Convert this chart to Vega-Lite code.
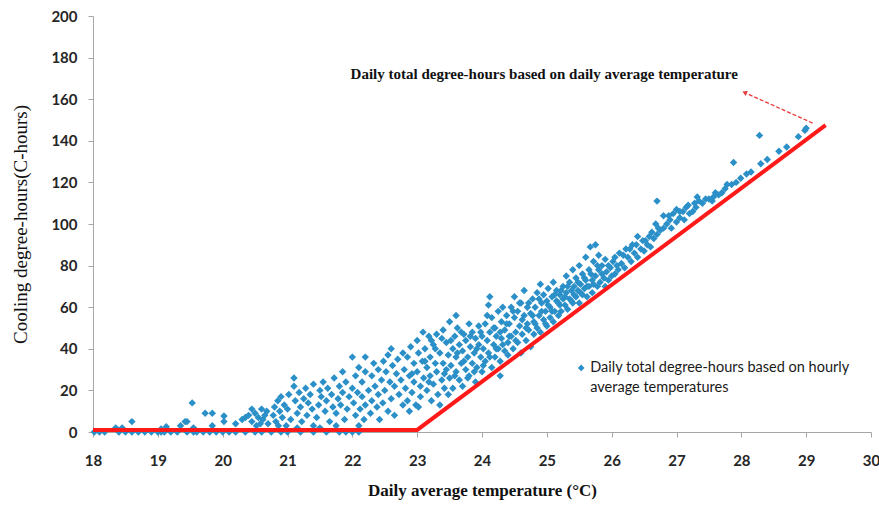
{
  "$schema": "https://vega.github.io/schema/vega-lite/v6.json",
  "width": 778,
  "height": 416,
  "autosize": {"type": "none"},
  "padding": {"left": 93, "top": 16, "right": 8, "bottom": 76},
  "background": "white",
  "config": {
    "view": {"stroke": null},
    "axis": {
      "domainColor": "#a6a6a6",
      "tickColor": "#a6a6a6",
      "grid": false,
      "labelFont": "Lato",
      "labelFontWeight": "bold",
      "labelFontSize": 15,
      "labelColor": "#262626",
      "labelFlush": false,
      "tickSize": 5
    }
  },
  "datasets": {
    "pts": [
      {"t":18.02,"h":0},{"t":18.1,"h":0},{"t":18.18,"h":0},{"t":18.4,"h":0},{"t":18.5,"h":0},{"t":18.6,"h":0},{"t":18.7,"h":0},{"t":18.8,"h":0},{"t":18.9,"h":0},{"t":19.0,"h":0},{"t":19.05,"h":0},{"t":19.1,"h":0},{"t":19.2,"h":0},{"t":19.3,"h":0},{"t":19.45,"h":0},{"t":19.55,"h":0},{"t":19.6,"h":0},{"t":19.7,"h":0},{"t":19.8,"h":0},{"t":19.9,"h":0},{"t":20.0,"h":0},{"t":20.1,"h":0},{"t":20.2,"h":0},{"t":20.35,"h":0},{"t":20.5,"h":0},{"t":20.6,"h":0},{"t":20.75,"h":0},{"t":20.9,"h":0},{"t":21.0,"h":0},{"t":21.2,"h":0},{"t":21.4,"h":0},{"t":21.6,"h":0},{"t":21.8,"h":0},{"t":21.9,"h":0},{"t":22.0,"h":0},{"t":22.1,"h":0},
      {"t":18.35,"h":2},{"t":18.45,"h":2},{"t":19.13,"h":2.5},{"t":19.05,"h":1.5},{"t":19.35,"h":3},{"t":19.45,"h":5},{"t":19.55,"h":2},{"t":19.84,"h":3},{"t":20.02,"h":5},{"t":20.2,"h":4},
      {"t":18.6,"h":5},{"t":19.53,"h":14},{"t":19.42,"h":5},{"t":19.73,"h":9},{"t":19.84,"h":9},{"t":20.02,"h":7.7},
      {"t":20.3,"h":6},{"t":20.35,"h":7},{"t":20.4,"h":8},{"t":20.45,"h":5},{"t":20.5,"h":9},{"t":20.55,"h":7},{"t":20.6,"h":11},{"t":20.62,"h":6},{"t":20.68,"h":10},{"t":20.7,"h":4},{"t":20.45,"h":11},{"t":20.52,"h":3},{"t":20.65,"h":8},{"t":20.58,"h":4},
      {"t":20.78,"h":8},{"t":20.8,"h":12},{"t":20.82,"h":5},{"t":20.85,"h":15},{"t":20.88,"h":10},{"t":20.9,"h":17},{"t":20.92,"h":7},{"t":20.95,"h":13},{"t":20.98,"h":3},{"t":21.0,"h":11},{"t":21.02,"h":18},{"t":21.05,"h":6},{"t":20.86,"h":3},
      {"t":21.1,"h":26},{"t":21.1,"h":22},{"t":21.12,"h":15},{"t":21.15,"h":9},{"t":21.18,"h":19},{"t":21.2,"h":12},{"t":21.22,"h":5},{"t":21.25,"h":16},{"t":21.28,"h":21},{"t":21.3,"h":8},{"t":21.32,"h":14},{"t":21.35,"h":18},{"t":21.38,"h":11},{"t":21.4,"h":3},{"t":21.4,"h":23},{"t":21.15,"h":2},
      {"t":21.45,"h":7},{"t":21.48,"h":13},{"t":21.5,"h":20},{"t":21.52,"h":17},{"t":21.55,"h":24},{"t":21.58,"h":10},{"t":21.6,"h":15},{"t":21.62,"h":21},{"t":21.65,"h":5},{"t":21.68,"h":18},{"t":21.7,"h":12},{"t":21.5,"h":2},
      {"t":21.72,"h":26},{"t":21.75,"h":9},{"t":21.78,"h":16},{"t":21.8,"h":22},{"t":21.82,"h":13},{"t":21.85,"h":19},{"t":21.88,"h":6},{"t":21.9,"h":24},{"t":21.92,"h":11},{"t":21.95,"h":17},{"t":21.75,"h":3},{"t":21.85,"h":29},
      {"t":22.0,"h":36},{"t":22.2,"h":36},{"t":22.0,"h":21},{"t":22.02,"h":14},{"t":22.05,"h":8},{"t":22.05,"h":27},{"t":22.08,"h":19},{"t":22.1,"h":31},{"t":22.1,"h":3},{"t":22.12,"h":11},{"t":22.15,"h":24},{"t":22.15,"h":17},{"t":22.18,"h":6},{"t":22.2,"h":29},{"t":22.2,"h":13},
      {"t":22.25,"h":20},{"t":22.28,"h":9},{"t":22.3,"h":27},{"t":22.3,"h":15},{"t":22.33,"h":33},{"t":22.35,"h":22},{"t":22.38,"h":12},{"t":22.4,"h":30},{"t":22.4,"h":18},{"t":22.42,"h":6},{"t":22.45,"h":25},{"t":22.47,"h":14},{"t":22.48,"h":34},
      {"t":22.5,"h":20},{"t":22.52,"h":29},{"t":22.55,"h":10},{"t":22.55,"h":37},{"t":22.58,"h":24},{"t":22.6,"h":16},{"t":22.62,"h":32},{"t":22.65,"h":22},{"t":22.65,"h":8},{"t":22.68,"h":28},{"t":22.7,"h":35},{"t":22.72,"h":18},{"t":22.75,"h":25},{"t":22.78,"h":13},{"t":22.78,"h":38},{"t":22.6,"h":40},
      {"t":22.8,"h":30},{"t":22.82,"h":21},{"t":22.85,"h":15},{"t":22.85,"h":36},{"t":22.88,"h":27},{"t":22.9,"h":41},{"t":22.92,"h":19},{"t":22.95,"h":33},{"t":22.95,"h":24},{"t":22.98,"h":13},{"t":23.0,"h":29},{"t":23.02,"h":38},{"t":23.05,"h":22},{"t":23.05,"h":17},{"t":23.08,"h":34},{"t":23.09,"h":48},{"t":23.1,"h":26},{"t":23.0,"h":44},
      {"t":23.12,"h":40},{"t":23.15,"h":20},{"t":23.15,"h":31},{"t":23.18,"h":46},{"t":23.2,"h":27},{"t":23.2,"h":36},{"t":23.22,"h":15},{"t":23.25,"h":42},{"t":23.25,"h":23},{"t":23.28,"h":33},{"t":23.3,"h":29},{"t":23.3,"h":47},{"t":23.32,"h":18},{"t":23.35,"h":38},{"t":23.38,"h":25},{"t":23.4,"h":49},{"t":23.4,"h":33},{"t":23.42,"h":21},{"t":23.45,"h":43},{"t":23.45,"h":30},{"t":23.48,"h":37},{"t":23.5,"h":26},{"t":23.5,"h":53},{"t":23.35,"h":13},{"t":23.22,"h":44},
      {"t":23.52,"h":32},{"t":23.55,"h":40},{"t":23.55,"h":21},{"t":23.58,"h":46},{"t":23.6,"h":29},{"t":23.6,"h":36},{"t":23.62,"h":50},{"t":23.65,"h":25},{"t":23.65,"h":42},{"t":23.68,"h":33},{"t":23.7,"h":39},{"t":23.7,"h":22},{"t":23.72,"h":47},{"t":23.75,"h":30},{"t":23.75,"h":44},{"t":23.78,"h":36},{"t":23.8,"h":52},{"t":23.8,"h":27},{"t":23.82,"h":41},{"t":23.85,"h":33},{"t":23.85,"h":48},{"t":23.88,"h":38},{"t":23.9,"h":24},{"t":23.9,"h":45},{"t":23.92,"h":31},{"t":23.95,"h":42},{"t":23.95,"h":51},{"t":23.98,"h":36},{"t":24.0,"h":29},{"t":24.0,"h":46},{"t":23.6,"h":56},
      {"t":24.02,"h":40},{"t":24.05,"h":34},{"t":24.05,"h":52},{"t":24.08,"h":44},{"t":24.1,"h":61},{"t":24.1,"h":38},{"t":24.12,"h":48},{"t":24.15,"h":31},{"t":24.15,"h":55},{"t":24.18,"h":42},{"t":24.2,"h":36},{"t":24.2,"h":50},{"t":24.22,"h":46},{"t":24.25,"h":58},{"t":24.25,"h":40},{"t":24.28,"h":34},{"t":24.3,"h":53},{"t":24.3,"h":45},{"t":24.32,"h":60},{"t":24.35,"h":39},{"t":24.35,"h":49},{"t":24.38,"h":56},{"t":24.4,"h":43},{"t":24.4,"h":37},{"t":24.12,"h":65},{"t":24.28,"h":27},
      {"t":24.42,"h":52},{"t":24.45,"h":46},{"t":24.45,"h":60},{"t":24.48,"h":40},{"t":24.5,"h":55},{"t":24.5,"h":65},{"t":24.52,"h":48},{"t":24.55,"h":58},{"t":24.55,"h":43},{"t":24.58,"h":51},{"t":24.6,"h":62},{"t":24.6,"h":38},{"t":24.62,"h":47},{"t":24.65,"h":56},{"t":24.65,"h":68},{"t":24.68,"h":44},{"t":24.7,"h":52},{"t":24.7,"h":60},{"t":24.72,"h":49},{"t":24.75,"h":57},{"t":24.75,"h":41},{"t":24.78,"h":64},{"t":24.8,"h":53},{"t":24.8,"h":47},
      {"t":24.82,"h":60},{"t":24.85,"h":50},{"t":24.85,"h":67},{"t":24.88,"h":56},{"t":24.9,"h":71},{"t":24.9,"h":48},{"t":24.92,"h":62},{"t":24.95,"h":54},{"t":24.95,"h":66},{"t":24.98,"h":58},{"t":25.0,"h":51},{"t":25.0,"h":63},{"t":25.02,"h":69},{"t":25.05,"h":55},{"t":25.05,"h":60},{"t":25.08,"h":65},{"t":25.1,"h":53},{"t":25.1,"h":72},{"t":25.12,"h":58},{"t":25.15,"h":63},{"t":25.15,"h":68},{"t":25.18,"h":56},{"t":25.2,"h":61},{"t":25.2,"h":66},
      {"t":25.22,"h":58},{"t":25.25,"h":64},{"t":25.25,"h":70},{"t":25.28,"h":61},{"t":25.3,"h":75},{"t":25.3,"h":67},{"t":25.32,"h":59},{"t":25.35,"h":64},{"t":25.35,"h":72},{"t":25.38,"h":68},{"t":25.4,"h":62},{"t":25.4,"h":78},{"t":25.42,"h":70},{"t":25.45,"h":65},{"t":25.45,"h":74},{"t":25.48,"h":68},{"t":25.5,"h":62},{"t":25.5,"h":80},{"t":25.52,"h":71},{"t":25.55,"h":66},{"t":25.55,"h":76},{"t":25.58,"h":69},{"t":25.6,"h":73},{"t":25.6,"h":84},
      {"t":25.62,"h":65},{"t":25.65,"h":78},{"t":25.65,"h":70},{"t":25.67,"h":89},{"t":25.7,"h":73},{"t":25.7,"h":67},{"t":25.72,"h":82},{"t":25.75,"h":75},{"t":25.78,"h":70},{"t":25.8,"h":85},{"t":25.8,"h":78},{"t":25.82,"h":72},{"t":25.85,"h":80},{"t":25.88,"h":74},{"t":25.9,"h":83},{"t":25.9,"h":70},{"t":25.92,"h":77},{"t":25.95,"h":73},{"t":25.98,"h":79},{"t":26.0,"h":75},{"t":26.02,"h":82},{"t":26.05,"h":76},{"t":26.08,"h":80},{"t":25.75,"h":90},
      {"t":26.1,"h":78},{"t":26.12,"h":86},{"t":26.15,"h":81},{"t":26.2,"h":79},{"t":26.22,"h":88},{"t":26.25,"h":84},{"t":26.3,"h":82},{"t":26.32,"h":90},{"t":26.35,"h":86},{"t":26.4,"h":94},{"t":26.4,"h":84},{"t":26.45,"h":88},{"t":26.5,"h":87},{"t":26.52,"h":92},{"t":26.55,"h":90},{"t":26.6,"h":89},{"t":26.62,"h":96},{"t":26.65,"h":93},{"t":26.68,"h":100},{"t":26.7,"h":111},{"t":26.7,"h":95},
      {"t":26.75,"h":97},{"t":26.8,"h":104},{"t":26.8,"h":98},{"t":26.85,"h":100},{"t":26.9,"h":102},{"t":26.92,"h":98},{"t":26.95,"h":105},{"t":27.0,"h":107},{"t":27.0,"h":101},{"t":27.05,"h":103},{"t":27.1,"h":106},{"t":27.12,"h":102},{"t":27.15,"h":108},{"t":27.2,"h":105},{"t":27.25,"h":106},{"t":27.28,"h":110},{"t":27.3,"h":108},{"t":27.35,"h":111},{"t":27.4,"h":110},
      {"t":27.45,"h":112},{"t":27.5,"h":112},{"t":27.55,"h":111},{"t":27.57,"h":113},{"t":27.6,"h":115},{"t":27.65,"h":114},{"t":27.7,"h":115},{"t":27.75,"h":117},{"t":27.78,"h":119},{"t":27.85,"h":119},{"t":27.88,"h":129.6},{"t":27.92,"h":120},{"t":27.99,"h":122},
      {"t":28.08,"h":124},{"t":28.15,"h":125},{"t":28.28,"h":142.6},{"t":28.3,"h":129},{"t":28.4,"h":131},{"t":28.58,"h":135},{"t":28.7,"h":137},{"t":28.88,"h":142},{"t":28.98,"h":145},{"t":29.0,"h":146},
      {"t":22.88,"h":10},{"t":22.92,"h":28},{"t":23.02,"h":12},{"t":23.12,"h":34},{"t":23.18,"h":24},{"t":23.28,"h":40},{"t":23.38,"h":45},{"t":23.42,"h":28},{"t":23.48,"h":18},{"t":23.52,"h":44},{"t":23.58,"h":27},{"t":23.62,"h":38},{"t":23.68,"h":48},{"t":23.72,"h":34},{"t":23.78,"h":26},{"t":23.82,"h":46},{"t":23.88,"h":29},{"t":23.92,"h":40},{"t":23.98,"h":48},{"t":24.02,"h":32},{"t":24.08,"h":56},{"t":24.12,"h":36},{"t":24.18,"h":50},{"t":24.22,"h":40},{"t":24.28,"h":48},{"t":24.32,"h":42},{"t":24.38,"h":52},{"t":24.42,"h":46},{"t":24.48,"h":58},{"t":24.52,"h":44},{"t":24.58,"h":62},{"t":24.62,"h":54},{"t":24.68,"h":50},{"t":24.72,"h":62},{"t":24.78,"h":56},{"t":24.82,"h":52},{"t":24.88,"h":64},{"t":24.92,"h":58},{"t":24.98,"h":52},{"t":25.02,"h":61},{"t":25.08,"h":58},{"t":25.12,"h":66},{"t":25.18,"h":62},{"t":25.22,"h":68},{"t":25.28,"h":65},{"t":25.32,"h":70},{"t":25.38,"h":63},{"t":25.42,"h":66},{"t":25.48,"h":72},{"t":25.52,"h":67},{"t":25.58,"h":74},{"t":25.62,"h":70},{"t":25.68,"h":76},{"t":25.72,"h":71},{"t":25.78,"h":80},{"t":25.85,"h":76},{"t":25.95,"h":80},{"t":26.05,"h":84},{"t":26.18,"h":85},{"t":26.28,"h":88},{"t":26.38,"h":90},{"t":26.48,"h":92},{"t":26.58,"h":94},{"t":26.72,"h":98},{"t":26.88,"h":104},{"t":27.05,"h":106},{"t":27.18,"h":109},{"t":27.32,"h":113}
    ]
  },
  "encoding": {
    "x": {
      "field": "t",
      "type": "quantitative",
      "scale": {"domain": [18, 30], "nice": false, "zero": false},
      "axis": {
        "values": [18,19,20,21,22,23,24,25,26,27,28,29,30],
        "title": "Daily average temperature (\u00b0C)",
        "titleFont": "Liberation Serif",
        "titleFontWeight": "bold",
        "titleFontSize": 17,
        "titleColor": "#111111",
        "titlePadding": 14,
        "labelPadding": 16
      }
    },
    "y": {
      "field": "h",
      "type": "quantitative",
      "scale": {"domain": [0, 200], "nice": false},
      "axis": {
        "values": [0,20,40,60,80,100,120,140,160,180,200],
        "title": "Cooling degree-hours(C-hours)",
        "titleFont": "Liberation Serif",
        "titleFontWeight": "normal",
        "titleFontSize": 19,
        "titleColor": "#111111",
        "titlePadding": 20,
        "labelPadding": 11
      }
    }
  },
  "layer": [
    {
      "data": {"name": "pts"},
      "mark": {"type": "point", "shape": "diamond", "filled": true, "size": 55, "color": "#2b8fc8", "opacity": 1}
    },
    {
      "data": {"values": [{"t": 18, "h": 1}, {"t": 23, "h": 1}, {"t": 29.3, "h": 147.5}]},
      "mark": {"type": "line", "color": "#ff1a1a", "strokeWidth": 4}
    },
    {
      "data": {"values": [{"t": 29.1, "h": 148.5, "t2": 28.1, "h2": 162.5}]},
      "mark": {"type": "rule", "color": "#e83a3a", "strokeWidth": 1.3, "strokeDash": [4, 2]},
      "encoding": {"x2": {"field": "t2"}, "y2": {"field": "h2"}}
    },
    {
      "data": {"values": [{"t": 28.05, "h": 163.2}]},
      "mark": {"type": "point", "shape": "triangle-up", "angle": 293, "filled": true, "size": 30, "color": "#e83a3a", "opacity": 1}
    },
    {
      "data": {"values": [{"t": 24.96, "h": 172, "label": "Daily total degree-hours based on daily average temperature"}]},
      "mark": {"type": "text", "font": "Liberation Serif", "fontWeight": "bold", "fontSize": 15, "color": "#111111", "align": "center", "baseline": "middle"},
      "encoding": {"text": {"field": "label"}}
    },
    {
      "data": {"values": [{"t": 25.53, "h": 30.8}]},
      "mark": {"type": "point", "shape": "diamond", "filled": true, "size": 45, "color": "#2b8fc8", "opacity": 1}
    },
    {
      "data": {"values": [
        {"t": 25.67, "h": 30.8, "label": "Daily total degree-hours based on hourly"},
        {"t": 25.67, "h": 21.2, "label": "average temperatures"}
      ]},
      "mark": {"type": "text", "font": "Lato", "fontSize": 14.5, "color": "#1a1a1a", "align": "left", "baseline": "middle"},
      "encoding": {"text": {"field": "label"}}
    }
  ]
}
